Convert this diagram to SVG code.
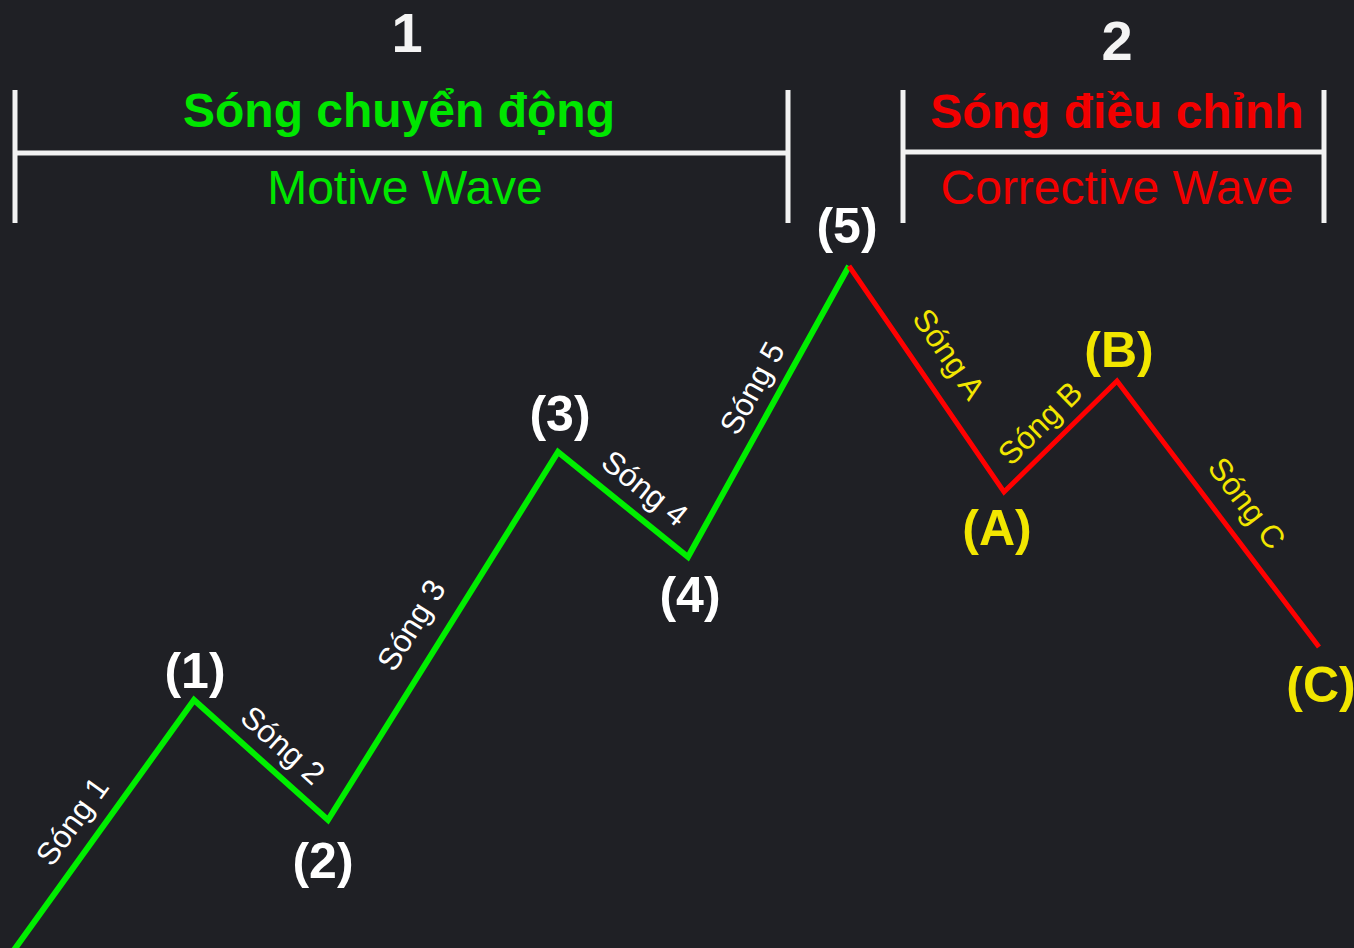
<svg xmlns="http://www.w3.org/2000/svg" width="1354" height="948" viewBox="0 0 1354 948">
<style>
.bg{fill:#1f2025}
.br{stroke:#f2f2f2;stroke-width:5;fill:none}
.num{font-family:"Liberation Sans",Arial,sans-serif;font-weight:bold;font-size:56px;fill:#f4f4f4;text-anchor:middle}
.tb{font-family:"Liberation Sans",Arial,sans-serif;font-weight:bold;font-size:48px;text-anchor:middle}
.tr{font-family:"Liberation Sans",Arial,sans-serif;font-size:48px;text-anchor:middle}
.g{fill:#00e600}
.r{fill:#f20000}
.pt{font-family:"Liberation Sans",Arial,sans-serif;font-weight:bold;font-size:50px;text-anchor:middle}
.w{fill:#ffffff}
.y{fill:#f2e600}
.lbl{font-family:"Liberation Sans",Arial,sans-serif;font-size:31.5px;text-anchor:middle}
.gl{stroke:#00ee00;stroke-width:6;fill:none;stroke-linejoin:miter}
.rl{stroke:#ff0000;stroke-width:5;fill:none;stroke-linejoin:miter}
</style>
<rect class="bg" x="0" y="0" width="1354" height="948"/>
<g id="bracket-motive">
<path class="br" d="M15,90 V223 M15,153 H788 M788,90 V223"/>
<text class="num" x="407" y="52">1</text>
<text class="tb g" x="399" y="127">Sóng chuyển động</text>
<text class="tr g" x="405" y="204">Motive Wave</text>
</g>
<g id="bracket-corrective">
<path class="br" d="M903,90 V223 M903,152 H1324 M1324,90 V223"/>
<text class="num" x="1117" y="60">2</text>
<text class="tb r" x="1117" y="128">Sóng điều chỉnh</text>
<text class="tr r" x="1117" y="204">Corrective Wave</text>
</g>
<g id="connectors">
<polyline class="gl" points="14,950 194,700 328,820 558,452 688,557 849,266"/>
<polyline class="rl" points="849,266 1004,492 1117,381 1319,647"/>
</g>
<g id="wave-labels">
<text class="lbl w" transform="translate(72,821) rotate(-54.1)" dy="0.35em">Sóng 1</text>
<text class="lbl w" transform="translate(283,745) rotate(41.8)" dy="0.35em">Sóng 2</text>
<text class="lbl w" transform="translate(411,625) rotate(-58)" dy="0.35em">Sóng 3</text>
<text class="lbl w" transform="translate(645,488) rotate(38.9)" dy="0.35em">Sóng 4</text>
<text class="lbl w" transform="translate(752,388) rotate(-61)" dy="0.35em">Sóng 5</text>
<text class="lbl y" transform="translate(949,354) rotate(55.6)" dy="0.35em">Sóng A</text>
<text class="lbl y" transform="translate(1040,423) rotate(-44.5)" dy="0.35em">Sóng B</text>
<text class="lbl y" transform="translate(1247,503) rotate(52.8)" dy="0.35em">Sóng C</text>
</g>
<g id="p1"><text class="pt w" x="195" y="688">(1)</text></g>
<g id="p2"><text class="pt w" x="323" y="878">(2)</text></g>
<g id="p3"><text class="pt w" x="560" y="431">(3)</text></g>
<g id="p4"><text class="pt w" x="690" y="612">(4)</text></g>
<g id="p5"><text class="pt w" x="847" y="243">(5)</text></g>
<g id="pA"><text class="pt y" x="997" y="545">(A)</text></g>
<g id="pB"><text class="pt y" x="1119" y="367">(B)</text></g>
<g id="pC"><text class="pt y" x="1321" y="702">(C)</text></g>
</svg>
